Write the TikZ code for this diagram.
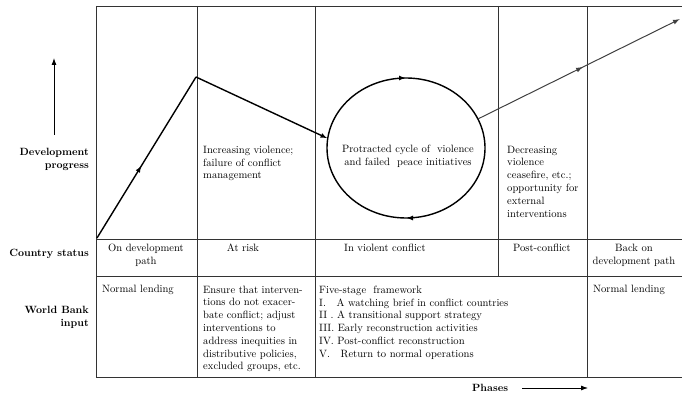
\documentclass[tikz,border=0pt]{standalone}
\usetikzlibrary{arrows.meta,decorations.markings,shapes.geometric}
\begin{document}
\begin{tikzpicture}[x=1pt,y=-1pt,
  grid/.style={line width=0.9pt, black!80},
  curve/.style={line width=1.4pt},
  tipend/.style={-{Latex[length=7pt,width=5pt]}},
  midarrow/.style={postaction={decorate}, decoration={markings, mark=at position #1 with {\arrow{Latex[length=7pt,width=5pt]}}}},
  body/.style={font=\fontsize{10.6}{12.8}\selectfont, inner sep=0pt},
  lab/.style={font=\bfseries\fontsize{10.5}{13}\selectfont, inner sep=0pt, align=right, anchor=east}]
\useasboundingbox (0,0) rectangle (682,395);
% table
\draw[grid] (96,6) -- (682,6);
\draw[grid] (96,239) -- (682,239);
\draw[grid] (96,276) -- (682,276);
\draw[grid] (96,377) -- (682,377);
\draw[grid] (96,6) -- (96,377);
\draw[grid] (197,6) -- (197,377);
\draw[grid] (315,6) -- (315,377);
\draw[grid] (498,6) -- (498,276);
\draw[grid] (587,6) -- (587,377);
% row labels
\node[lab] (dev) at (89,159) {Development\\progress};
\node[lab] (cs) at (89,254) {Country status};
\node[lab] (wb) at (89,317.5) {World Bank\\input};
\coordinate (upA) at (54,135);
\coordinate (upB) at (54,58);
\draw[line width=0.9pt, tipend] (upA) -- (upB);
% development curve
\coordinate (start) at (97,238);
\coordinate (peak) at (196,77);
\node[ellipse, minimum width=158pt, minimum height=140pt, inner sep=0pt] (cyc) at (406,148) {};
\draw[curve, postaction={decorate}, decoration={markings,
   mark=at position 0.25 with {\arrowreversed{Latex[length=7pt,width=5pt]}},
   mark=at position 0.75 with {\arrowreversed{Latex[length=7pt,width=5pt]}}}]
   (406,148) ellipse [x radius=79pt, y radius=70pt];
\draw[curve, midarrow=0.45] (start) -- (peak);
\draw[curve, tipend] (peak) -- (cyc.173);
\coordinate (endp) at (680,19);
\draw[line width=1pt, black!75, midarrow=0.52, tipend] (cyc.22) -- (endp);
% row 1 texts
\node[body, align=left, anchor=west] (t1) at (203,163.5) {Increasing violence;\\failure of conflict\\management};
\node[body, align=center] (t2) at (408,156.5) {Protracted cycle of \ violence\\and failed \ peace initiatives};
\node[body, align=left, anchor=west] (t3) at (507,181.5) {Decreasing\\violence\\ceasefire, etc.;\\opportunity for\\external\\interventions};
% country status
\node[body, align=center] (s1) at (146,255) {On development\\path};
\node[body] (s2) at (243,248) {At risk};
\node[body] (s3) at (385,248) {In violent conflict};
\node[body] (s4) at (542,248) {Post-conflict};
\node[body, align=center] (s5) at (634,255) {Back on\\development path};
% world bank input
\node[body, anchor=west] (w1) at (102,290) {Normal lending};
\node[body, align=left, anchor=west] (w2) at (203,329) {Ensure that interven-\\tions do not exacer-\\bate conflict; adjust\\interventions to\\address inequities in\\distributive policies,\\excluded groups, etc.};
\node[body, align=left, anchor=west] (w3) at (319,322.5) {Five-stage \ framework\\I.\quad A watching brief in conflict countries\\II . A transitional support strategy\\III. Early reconstruction activities\\IV. Post-conflict reconstruction\\V.\quad Return to normal operations};
\node[body, anchor=west] (w4) at (593,290) {Normal lending};
% phases
\node[font=\bfseries\fontsize{10.5}{12}\selectfont, inner sep=0pt, anchor=west] (ph) at (472,388) {Phases};
\coordinate (phA) at (522,388);
\coordinate (phB) at (588,388);
\draw[line width=0.8pt, tipend] (phA) -- (phB);
\end{tikzpicture}
\end{document}
